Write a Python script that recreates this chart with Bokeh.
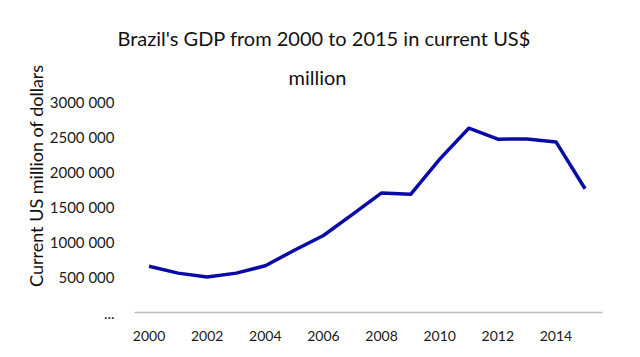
from bokeh.plotting import figure
from bokeh.models import Range1d, FixedTicker, Title
from bokeh.embed import file_html
from bokeh.resources import INLINE

years = list(range(2000, 2016))
gdp_musd = [657000, 560000, 505000, 560000, 665000, 885000, 1095000, 1395000,
            1700000, 1680000, 2180000, 2620000, 2465000, 2468000, 2425000, 1760000]

y_tick_values = [0, 500000, 1000000, 1500000, 2000000, 2500000, 3000000]
y_tick_labels = ["...", "500 000", "1000 000", "1500 000", "2000 000", "2500 000", "3000 000"]
x_tick_values = [2000, 2002, 2004, 2006, 2008, 2010, 2012, 2014]

title_lines = ["Brazil's GDP from 2000 to 2015 in current US$", "million"]
y_label = "Current US million of dollars"

FONT = "Lato"

p = figure(width=630, height=349, output_backend="svg", toolbar_location=None,
           x_range=Range1d(1999.5, 2015.6), y_range=Range1d(0, 3000000),
           min_border_left=134, min_border_right=28, min_border_top=101, min_border_bottom=37)
p.outline_line_color = None
p.xgrid.grid_line_color = None
p.ygrid.grid_line_color = None

p.line(years, gdp_musd, line_color="#0a0aa8", line_width=3.5, line_join="round")

p.xaxis.ticker = FixedTicker(ticks=x_tick_values)
p.xaxis.axis_line_color = "#bfbfbf"
p.xaxis.axis_line_width = 1.5
p.xaxis.major_tick_line_color = None
p.xaxis.minor_tick_line_color = None
p.xaxis.major_label_standoff = 12
p.xaxis.major_label_text_font = FONT
p.xaxis.major_label_text_font_size = "14px"
p.xaxis.major_label_text_color = "#1a1a1a"

p.yaxis.ticker = FixedTicker(ticks=y_tick_values)
p.yaxis.major_label_overrides = {v: s for v, s in zip(y_tick_values, y_tick_labels)}
p.yaxis.axis_line_color = None
p.yaxis.major_tick_line_color = None
p.yaxis.minor_tick_line_color = None
p.yaxis.major_label_standoff = 14
p.yaxis.major_label_text_font = FONT
p.yaxis.major_label_text_font_size = "15px"
p.yaxis.major_label_text_color = "#1a1a1a"

# title lines: second line nearest to the frame, first line above it
p.add_layout(Title(text=title_lines[1], align="left", offset=154, standoff=26,
                   text_font=FONT, text_font_size="20px", text_font_style="normal",
                   text_color="#111111"), "above")
p.add_layout(Title(text=title_lines[0], align="left", offset=-17, standoff=0,
                   text_font=FONT, text_font_size="20px", text_font_style="normal",
                   text_color="#111111"), "above")

p.add_layout(Title(text=y_label, align="right", offset=-37, standoff=0,
                   text_font=FONT, text_font_size="18px", text_font_style="normal",
                   text_color="#111111"), "left")

open("out.html", "w").write(file_html(p, INLINE))
